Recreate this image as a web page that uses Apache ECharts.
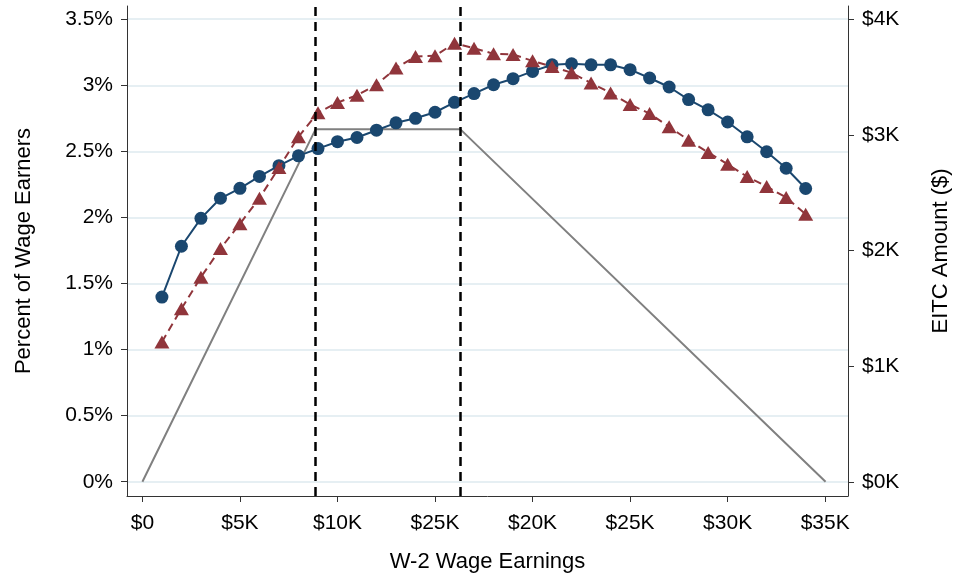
<!DOCTYPE html>
<html><head><meta charset="utf-8">
<script src="https://cdn.jsdelivr.net/npm/echarts@6/dist/echarts.min.js"></script>
<style>html,body{margin:0;padding:0;background:#fff}#c{width:960px;height:578px}</style>
</head><body><div id="c"></div>
<script>
// W-2 wage earnings bins ($)
const earnings = [1000,2000,3000,4000,5000,6000,7000,8000,9000,10000,11000,12000,13000,14000,15000,16000,17000,18000,19000,20000,21000,22000,23000,24000,25000,26000,27000,28000,29000,30000,31000,32000,33000,34000];
// Percent of wage earners, circle series (navy)
const pctCircles = [1.397,1.782,1.993,2.145,2.220,2.310,2.392,2.466,2.521,2.573,2.605,2.660,2.716,2.750,2.796,2.871,2.937,3.004,3.050,3.105,3.155,3.163,3.155,3.155,3.118,3.055,2.987,2.892,2.814,2.722,2.610,2.497,2.372,2.219];
// Percent of wage earners, triangle series (maroon, dashed)
const pctTriangles = [1.058,1.309,1.548,1.764,1.952,2.146,2.377,2.611,2.793,2.869,2.925,3.004,3.130,3.218,3.223,3.319,3.281,3.238,3.233,3.185,3.142,3.095,3.017,2.942,2.854,2.786,2.686,2.585,2.492,2.402,2.309,2.234,2.151,2.025];
// EITC schedule (earnings $, credit $)
const eitcEarnings = [0, 8880, 16290, 35020];
const eitcAmount = [0, 3050, 3050, 0];
// Kink points (dashed verticals)
const kinks = [8880, 16290];
// Tick values and labels
const xTickValues = [0,5000,10000,15000,20000,25000,30000,35000];
const xTickLabels = ['$0','$5K','$10K','$25K','$20K','$25K','$30K','$35K'];
const leftTickValues = [0,0.5,1,1.5,2,2.5,3,3.5];
const leftTickLabels = ['0%','0.5%','1%','1.5%','2%','2.5%','3%','3.5%'];
const rightTickValues = [0,1000,2000,3000,4000];
const rightTickLabels = ['$0K','$1K','$2K','$3K','$4K'];

function lookup(vals, labs){
  return function(v){
    for (let i=0;i<vals.length;i++){ if (Math.abs(vals[i]-v) < 1e-6*Math.max(1,Math.abs(vals[i]))) return labs[i]; }
    return '';
  };
}
const FONT = '"Liberation Sans", Arial, Helvetica, sans-serif';
const TXT = '#000';
const AX = '#333';

const chart = echarts.init(document.getElementById('c'), null, {renderer:'canvas'});
chart.setOption({
  animation:false,
  backgroundColor:'#ffffff',
  textStyle:{fontFamily:FONT},
  grid:{left:127, right:112, top:6, bottom:80, containLabel:false},
  xAxis:{
    type:'value', min:-790, max:36170,
    name:'W-2 Wage Earnings', nameLocation:'middle', nameGap:55,
    nameTextStyle:{fontSize:22, color:TXT, fontFamily:FONT},
    axisLine:{show:true, onZero:false, lineStyle:{color:AX, width:1}},
    axisTick:{show:true, length:6, customValues:xTickValues, lineStyle:{color:AX}},
    axisLabel:{customValues:xTickValues, formatter:lookup(xTickValues,xTickLabels), fontSize:21, color:TXT, margin:17, fontFamily:FONT},
    splitLine:{show:false}
  },
  yAxis:[{
    type:'value', min:-0.108, max:3.6, position:'left',
    name:'Percent of Wage Earners', nameLocation:'middle', nameGap:92,
    nameTextStyle:{fontSize:22, color:TXT, fontFamily:FONT},
    axisLine:{show:true, onZero:false, lineStyle:{color:AX, width:1}},
    axisTick:{show:true, length:6, customValues:leftTickValues, lineStyle:{color:AX}},
    axisLabel:{customValues:leftTickValues, formatter:lookup(leftTickValues,leftTickLabels), fontSize:21, color:TXT, margin:14, fontFamily:FONT},
    splitLine:{show:true, lineStyle:{color:'#e6eff3', width:2}}
  },{
    type:'value', min:-123, max:4115, position:'right',
    name:'EITC Amount ($)', nameLocation:'middle', nameGap:82,
    nameTextStyle:{fontSize:22, color:TXT, fontFamily:FONT},
    axisLine:{show:true, onZero:false, lineStyle:{color:AX, width:1}},
    axisTick:{show:true, length:6, customValues:rightTickValues, lineStyle:{color:AX}},
    axisLabel:{customValues:rightTickValues, formatter:lookup(rightTickValues,rightTickLabels), fontSize:21, color:TXT, margin:14, fontFamily:FONT},
    splitLine:{show:false}
  }],
  series:[
    {
      name:'EITC Amount', type:'line', yAxisIndex:1, z:1,
      data: eitcEarnings.map((x,i)=>[x, eitcAmount[i]]),
      showSymbol:false, symbol:'none',
      lineStyle:{color:'#808080', width:2},
      markLine:{
        silent:true, symbol:'none', label:{show:false},
        lineStyle:{color:'#000', width:2.5, type:[9,6]},
        data: kinks.map(k=>({xAxis:k}))
      }
    },
    {
      name:'Circles', type:'line', z:3,
      data: earnings.map((x,i)=>[x, pctCircles[i]]),
      symbol:'circle', symbolSize:13, showAllSymbol:true,
      itemStyle:{color:'#1a476f'},
      lineStyle:{color:'#1a476f', width:2}
    },
    {
      name:'Triangles', type:'line', z:4,
      data: earnings.map((x,i)=>[x, pctTriangles[i]]),
      symbol:'triangle', symbolSize:[15,13], showAllSymbol:true,
      itemStyle:{color:'#90353b'},
      lineStyle:{color:'#90353b', width:2, type:[8,5]}
    }
  ]
});
</script>
</body></html>
